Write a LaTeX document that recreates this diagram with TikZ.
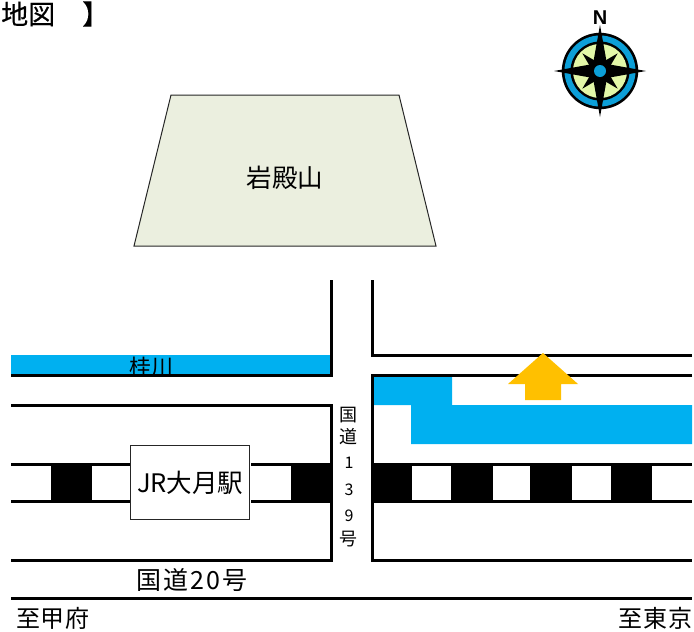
\documentclass[tikz,border=0pt]{standalone}
\usepackage{fontspec}
\setmainfont{Noto Sans CJK JP}
\newfontfamily\spaced[LetterSpace=3]{Noto Sans CJK JP}
\newfontfamily\spacedwide[LetterSpace=8]{Noto Sans CJK JP}
\newfontfamily\titlefont[FakeBold=0.4]{Noto Sans CJK JP}
\newfontfamily\latinbold{Liberation Sans}
\newcommand{\fs}[1]{\fontsize{#1}{#1}\selectfont}
\definecolor{riverblue}{HTML}{00B0F0}
\definecolor{arrowgold}{HTML}{FFC000}
\definecolor{mountfill}{HTML}{EBEFDF}
\definecolor{compassblue}{HTML}{0C9FD8}
\definecolor{compassgreen}{HTML}{E3F7A8}
\tikzset{
  road/.style={line width=3pt,line join=miter},
  rail/.style={line width=3pt},
  block/.style={fill=black,draw=none},
  river/.style={fill=riverblue,draw=none},
  lbl/.style={inner sep=0pt,font=\fs{#1}},
  lbl/.default=22
}
\begin{document}
\begin{tikzpicture}[x=1pt,y=-1pt]
\useasboundingbox (0,0) rectangle (694,632);
% title
\node[anchor=west,inner sep=0pt,font=\titlefont\fs{27}] (title) at (1,14) {地図\hspace{1em}】};
% mountain
\draw[draw=black!85,line width=1pt,fill=mountfill] (171,95) -- (399,95) -- (436,246) -- (134,246) -- cycle;
\node[lbl=25.5] (mount) at (285,178) {岩殿山};
% river
\fill[river] (11,355) rectangle (331,375);
\fill[river] (373,377) -- (452,377) -- (452,405) -- (692,405) -- (692,444) -- (411,444) -- (411,405) -- (373,405) -- cycle;
\node[lbl=22] (katsura) at (151,367) {桂川};
% roads
\draw[road] (11,375) -- (331,375) -- (331,280);
\draw[road] (372,280) -- (372,355) -- (692,355);
\draw[road] (11,405) -- (331,405) -- (331,560) -- (11,560);
\draw[road] (692,375) -- (372,375) -- (372,560) -- (692,560);
\draw[road] (11,598.5) -- (692,598.5);
% rails
\foreach \y in {464,501}{
  \draw[rail] (11,\y) -- (132,\y);
  \draw[rail] (251,\y) -- (331,\y);
  \draw[rail] (372,\y) -- (692,\y);
}
\fill[block] (51,463) rectangle (92,502);
\fill[block] (291,463) rectangle (331,502);
\fill[block] (372,463) rectangle (412,502);
\fill[block] (451,463) rectangle (493,502);
\fill[block] (530,463) rectangle (572,502);
\fill[block] (611,463) rectangle (652,502);
% station
\node[draw=black!85,line width=1.4pt,fill=white,minimum width=119pt,minimum height=74pt,inner sep=0pt,anchor=north west,font=\fs{25.5}] (station) at (130,445) {JR大月駅};
% arrow
\fill[arrowgold] (543,353) -- (578,384) -- (561,384) -- (561,400) -- (525,400) -- (525,384) -- (508,384) -- cycle;
% vertical road label
\node[lbl=18] (k1) at (348,415) {国};
\node[lbl=18] (k2) at (348,437) {道};
\node[lbl=16] (k3) at (349,463) {1};
\node[lbl=16] (k4) at (349,490) {3};
\node[lbl=16] (k5) at (349,516) {9};
\node[lbl=18] (k6) at (348,539) {号};
% road labels
\node[inner sep=0pt,font=\spacedwide\fs{25}] (r20) at (192,580) {国道20号};
\node[inner sep=0pt,anchor=west,font=\spaced\fs{24}] (kofu) at (16,618) {至甲府};
\node[inner sep=0pt,anchor=east,font=\spaced\fs{24}] (tokyo) at (692.5,618) {至東京};
% compass
\begin{scope}[shift={(600,71)}]
  \fill[black] (0,0) circle (38.2);
  \fill[compassblue] (0,0) circle (35.5);
  \fill[black] (0,0) circle (29.5);
  \fill[compassgreen] (0,0) circle (27);
  \foreach \a in {45,135,225,315}{
    \fill[black,rotate=\a] (25,0) -- (0,6.5) -- (0,-6.5) -- cycle;
  }
  \foreach \a in {0,90,180,270}{
    \fill[black,rotate=\a] (46,0) -- (7,7) -- (0,0) -- (7,-7) -- cycle;
  }
  \fill[compassblue] (0,0) circle (6);
\end{scope}
\node[inner sep=0pt,font=\latinbold\bfseries\fs{20}] (north) at (600,18) {N};
\end{tikzpicture}
\end{document}
